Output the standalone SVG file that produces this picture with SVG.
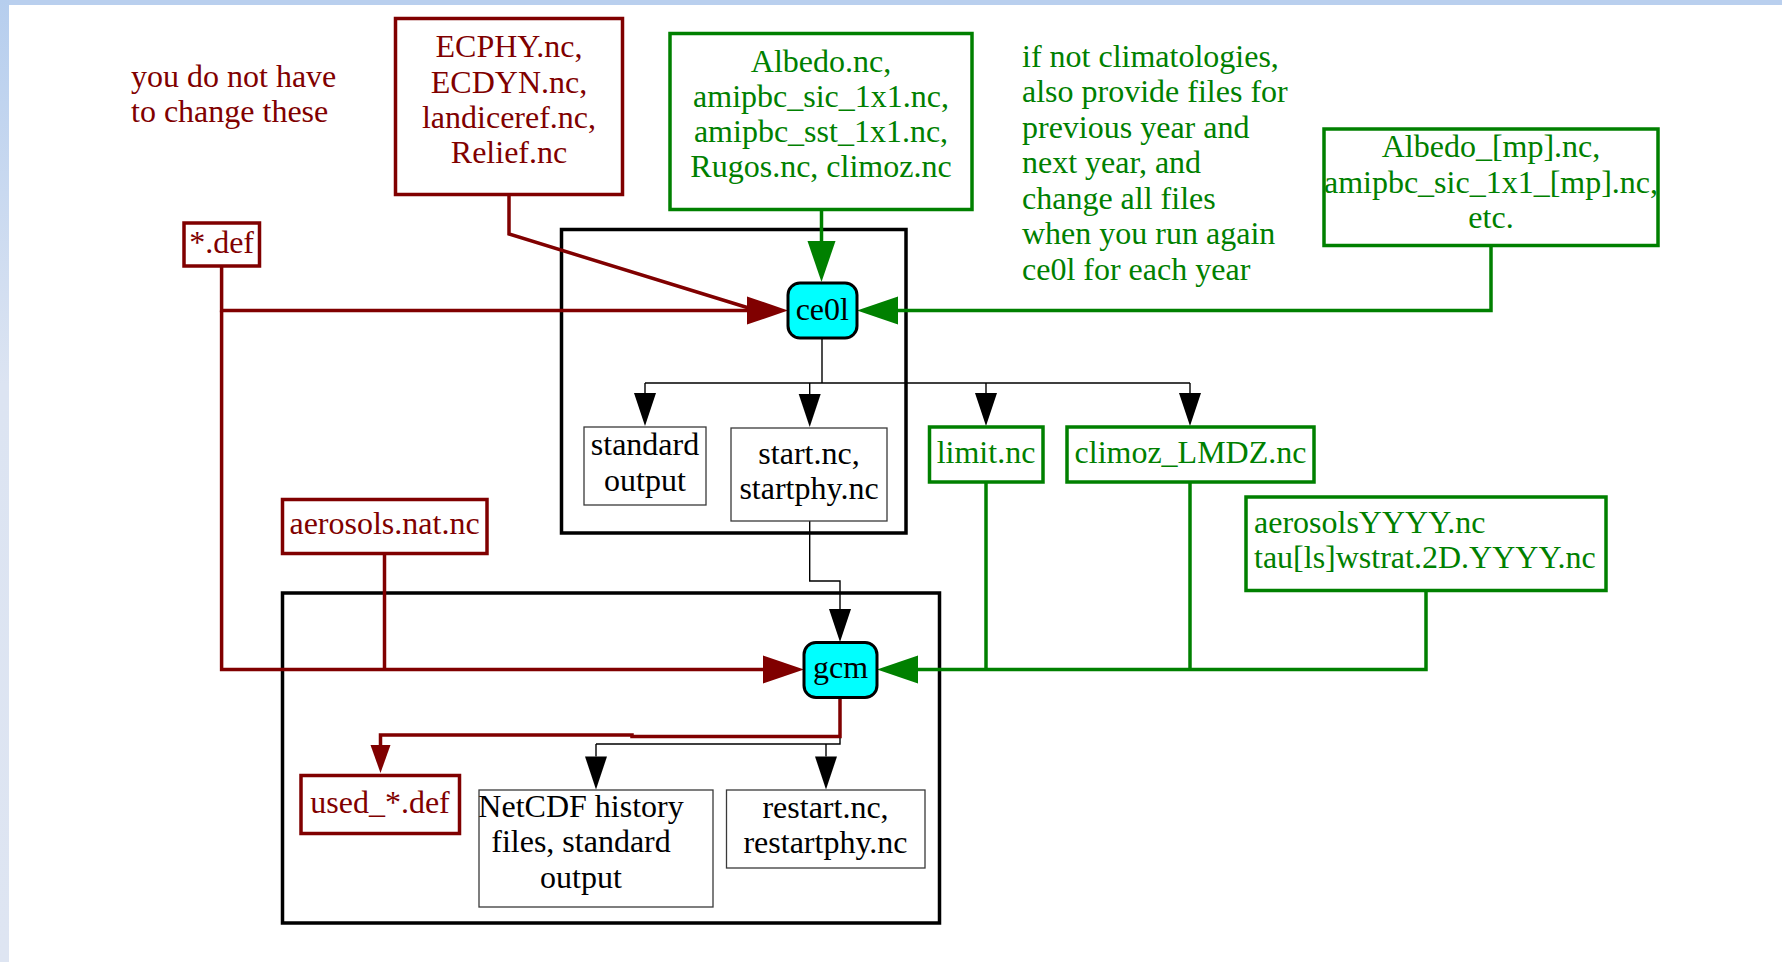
<svg xmlns="http://www.w3.org/2000/svg" width="1782" height="962" viewBox="0 0 1782 962">
<defs>
<linearGradient id="leftbar" x1="0" y1="0" x2="0" y2="1">
<stop offset="0" stop-color="#b6ceee"/>
<stop offset="0.4" stop-color="#dce4f2"/>
<stop offset="1" stop-color="#dee5f2"/>
</linearGradient>
<marker id="ahRed" markerUnits="userSpaceOnUse" markerWidth="42" markerHeight="28" refX="0" refY="14" orient="auto" overflow="visible">
<path d="M0,0 L41,14 L0,28 Z" fill="#800000"/>
</marker>
<marker id="ahRedS" markerUnits="userSpaceOnUse" markerWidth="29" markerHeight="20" refX="0" refY="10" orient="auto" overflow="visible">
<path d="M0,0 L28,10 L0,20 Z" fill="#800000"/>
</marker>
<marker id="ahGreen" markerUnits="userSpaceOnUse" markerWidth="42" markerHeight="28" refX="0" refY="14" orient="auto" overflow="visible">
<path d="M0,0 L41,14 L0,28 Z" fill="#008000"/>
</marker>
<marker id="ahBlack" markerUnits="userSpaceOnUse" markerWidth="34" markerHeight="22" refX="0" refY="11" orient="auto" overflow="visible">
<path d="M0,0 L33,11 L0,22 Z" fill="#000000"/>
</marker>
</defs>
<style>
text { font-family: "Liberation Serif", "Times New Roman", serif; font-size: 32px; }
.red { fill: #800000; }
.grn { fill: #008000; }
.blk { fill: #000000; }
.mid { text-anchor: middle; }
.boxR { fill: #ffffff; stroke: #800000; stroke-width: 3.5; }
.boxG { fill: #ffffff; stroke: #008000; stroke-width: 3.5; }
.boxK { fill: #ffffff; stroke: #3a3a3a; stroke-width: 1.3; }
.cluster { fill: none; stroke: #000000; stroke-width: 3.5; }
.proc { fill: #00ffff; stroke: #000000; stroke-width: 3; }
.eR { fill: none; stroke: #800000; stroke-width: 3.5; }
.eG { fill: none; stroke: #008000; stroke-width: 3.5; }
.eK { fill: none; stroke: #000000; stroke-width: 1.4; }
</style>

<rect x="0" y="0" width="1782" height="962" fill="#ffffff"/>
<rect x="0" y="0" width="1782" height="5" fill="#b9cfee"/>
<rect x="0" y="0" width="9" height="962" fill="url(#leftbar)"/>

<g id="clusters">
<rect id="cluster_ce0l" class="cluster" x="561.5" y="229.5" width="344.5" height="303.5"/>
<rect id="cluster_gcm" class="cluster" x="282.5" y="593" width="657" height="330"/>
</g>

<g id="notes">
<text class="red" x="131" y="87">you do not have</text>
<text class="red" x="131" y="122">to change these</text>
<text class="grn" x="1022" y="66.7">if not climatologies,</text>
<text class="grn" x="1022" y="102.2">also provide files for</text>
<text class="grn" x="1022" y="137.7">previous year and</text>
<text class="grn" x="1022" y="173.2">next year, and</text>
<text class="grn" x="1022" y="208.7">change all files</text>
<text class="grn" x="1022" y="244.2">when you run again</text>
<text class="grn" x="1022" y="279.7">ce0l for each year</text>
</g>

<g id="connectors">
<!-- red -->
<path class="eR" d="M509,194 L509,234 L752,309"/>
<path class="eR" d="M221.6,266 L221.6,310.5 L747,310.5" marker-end="url(#ahRed)"/>
<path class="eR" d="M221.6,310.5 L221.6,669.5 L763,669.5" marker-end="url(#ahRed)"/>
<path class="eR" d="M384.5,553.5 L384.5,669.5"/>
<path class="eR" d="M840,697.5 L840,736.5 L632,736.5 L632,735 L380.5,735 L380.5,745" marker-end="url(#ahRedS)"/>
<!-- green -->
<path class="eG" d="M821.5,209.5 L821.5,241" marker-end="url(#ahGreen)"/>
<path class="eG" d="M1491,245.5 L1491,310.5 L898,310.5" marker-end="url(#ahGreen)"/>
<path class="eG" d="M986,482 L986,669.5"/>
<path class="eG" d="M1190,482 L1190,669.5"/>
<path class="eG" d="M1426,590.5 L1426,669.5 L918,669.5" marker-end="url(#ahGreen)"/>
<!-- black -->
<path class="eK" d="M822,338 L822,383 M645,383 L1190,383"/>
<path class="eK" d="M645,383 L645,393" marker-end="url(#ahBlack)"/>
<path class="eK" d="M809.7,383 L809.7,394" marker-end="url(#ahBlack)"/>
<path class="eK" d="M986,383 L986,393" marker-end="url(#ahBlack)"/>
<path class="eK" d="M1190,383 L1190,393" marker-end="url(#ahBlack)"/>
<path class="eK" d="M809.7,521 L809.7,581 L840,581 L840,609" marker-end="url(#ahBlack)"/>
<path class="eK" d="M840,738 L840,744 L596,744"/>
<path class="eK" d="M596,744 L596,756.5" marker-end="url(#ahBlack)"/>
<path class="eK" d="M826,744 L826,756.5" marker-end="url(#ahBlack)"/>
</g>

<g id="ECPHY">
<rect class="boxR" x="395.5" y="18.5" width="227" height="176"/>
<text class="red mid" x="509" y="57.3">ECPHY.nc,</text>
<text class="red mid" x="509" y="92.8">ECDYN.nc,</text>
<text class="red mid" x="509" y="128.3">landiceref.nc,</text>
<text class="red mid" x="509" y="163.3">Relief.nc</text>
</g>

<g id="Albedo">
<rect class="boxG" x="670" y="33.5" width="302" height="176"/>
<text class="grn mid" x="821" y="71.7">Albedo.nc,</text>
<text class="grn mid" x="821" y="106.7">amipbc_sic_1x1.nc,</text>
<text class="grn mid" x="821" y="141.7">amipbc_sst_1x1.nc,</text>
<text class="grn mid" x="821" y="176.7">Rugos.nc, climoz.nc</text>
</g>

<g id="Albedo_mp">
<rect class="boxG" x="1324" y="129" width="334" height="116.5"/>
<text class="grn mid" x="1491" y="157">Albedo_[mp].nc,</text>
<text class="grn mid" x="1491" y="192.5">amipbc_sic_1x1_[mp].nc,</text>
<text class="grn mid" x="1491" y="228">etc.</text>
</g>

<g id="def">
<rect class="boxR" x="184" y="223" width="75.5" height="43"/>
<text class="red mid" x="221.6" y="253">*.def</text>
</g>

<g id="ce0l">
<rect class="proc" x="788" y="283" width="69" height="55" rx="12"/>
<text class="blk mid" x="822.3" y="320">ce0l</text>
</g>

<g id="standard_output">
<rect class="boxK" x="584" y="427" width="122" height="78"/>
<text class="blk mid" x="645" y="455">standard</text>
<text class="blk mid" x="645" y="490.7">output</text>
</g>

<g id="start">
<rect class="boxK" x="731" y="428" width="156" height="93"/>
<text class="blk mid" x="809" y="464">start.nc,</text>
<text class="blk mid" x="809" y="499">startphy.nc</text>
</g>

<g id="limit">
<rect class="boxG" x="929.5" y="427" width="113.5" height="55"/>
<text class="grn mid" x="986" y="462.7">limit.nc</text>
</g>

<g id="climoz">
<rect class="boxG" x="1067" y="427" width="247" height="55"/>
<text class="grn mid" x="1190.5" y="462.7">climoz_LMDZ.nc</text>
</g>

<g id="aerosolsYYYY">
<rect class="boxG" x="1246" y="497" width="360" height="93.5"/>
<text class="grn" x="1254" y="533.3">aerosolsYYYY.nc</text>
<text class="grn" x="1254" y="568.3">tau[ls]wstrat.2D.YYYY.nc</text>
</g>

<g id="aerosols_nat">
<rect class="boxR" x="282.5" y="499.5" width="204.5" height="54"/>
<text class="red mid" x="384.5" y="534.3">aerosols.nat.nc</text>
</g>

<g id="gcm">
<rect class="proc" x="804" y="642.5" width="73" height="55" rx="12"/>
<text class="blk mid" x="840.5" y="678.3">gcm</text>
</g>

<g id="used_def">
<rect class="boxR" x="301" y="775.5" width="158.5" height="58"/>
<text class="red mid" x="380" y="813.3">used_*.def</text>
</g>

<g id="NetCDF">
<rect class="boxK" x="479" y="790" width="234" height="117"/>
<text class="blk mid" x="581" y="816.7">NetCDF history</text>
<text class="blk mid" x="581" y="852.3">files, standard</text>
<text class="blk mid" x="581" y="888">output</text>
</g>

<g id="restart">
<rect class="boxK" x="726.5" y="790" width="198.5" height="78"/>
<text class="blk mid" x="825.5" y="817.5">restart.nc,</text>
<text class="blk mid" x="825.5" y="852.5">restartphy.nc</text>
</g>
</svg>
